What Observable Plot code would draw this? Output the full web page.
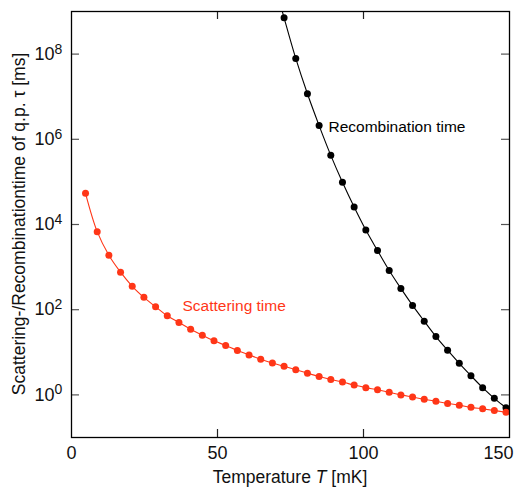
<!DOCTYPE html>
<html>
<head>
<meta charset="utf-8">
<script src="https://cdn.jsdelivr.net/npm/d3@7"></script>
<script src="https://cdn.jsdelivr.net/npm/@observablehq/plot@0.6"></script>
<style>
  body { margin: 0; background: #fff; }
  svg { font-family: "Liberation Sans", Arial, Helvetica, sans-serif; }
</style>
</head>
<body>
<div id="chart"></div>
<script>
// Scattering time (red)
const scatterT = [4.8, 8.8, 12.8, 16.8, 20.8, 24.8, 28.8, 32.8, 36.8, 40.8, 44.8, 48.8, 52.8, 56.8, 60.8, 64.8, 68.8, 72.8, 76.8, 80.8, 84.8, 88.8, 92.8, 96.8, 100.8, 104.8, 108.8, 112.8, 116.8, 120.8, 124.8, 128.8, 132.8, 136.8, 140.8, 144.8, 148.8];
const scatterTau = [54000, 6800, 1900, 760, 355, 195, 117, 72, 50, 34.7, 25.1, 18.6, 14.5, 11.0, 8.7, 6.9, 5.6, 4.7, 3.9, 3.24, 2.69, 2.29, 2.0, 1.70, 1.48, 1.32, 1.15, 1.0, 0.89, 0.79, 0.71, 0.63, 0.575, 0.51, 0.47, 0.43, 0.39];
// Recombination time (black)
const recombT = [72.8, 76.8, 80.8, 84.8, 88.8, 92.8, 96.8, 100.8, 104.8, 108.8, 112.8, 116.8, 120.8, 124.8, 128.8, 132.8, 136.8, 140.8, 144.8, 148.8];
const recombTau = [7.1e8, 7.9e7, 1.17e7, 2.1e6, 4.2e5, 9.8e4, 2.57e4, 7400, 2450, 832, 316, 126, 53.7, 23.4, 11.2, 5.5, 2.82, 1.48, 0.83, 0.50];
// curve ends (where the lines meet the frame)
const recombLineT = [71.0, ...recombT, 150];
const recombLineTau = [2.0e9, ...recombTau, 0.43];
const scatterLineT = [...scatterT, 150];
const scatterLineTau = [...scatterTau, 0.38];

const xTicks = [0, 50, 100, 150];
const yTicks = [1, 1e2, 1e4, 1e6, 1e8];
const yTickExp = ["0", "2", "4", "6", "8"];

const labels = [
  {text: "Recombination time", T: 88.0, tau: 1.9e6, color: "black"},
  {text: "Scattering time", T: 38.0, tau: 123, color: "#ff3617"}
];

const RED = "#ff3617";
const W = 514, H = 487;
const mL = 71, mR = 5, mT = 11, mB = 50;
const plotW = W - mL - mR, plotH = H - mT - mB;

const zip = (a, b) => a.map((v, i) => ({T: v, tau: b[i]}));
const scatter = zip(scatterT, scatterTau);
const recomb = zip(recombT, recombTau);
const scatterLine = zip(scatterLineT, scatterLineTau);
const recombLine = zip(recombLineT, recombLineTau);
const yTickData = yTicks.map((v, i) => ({v, e: yTickExp[i]}));

const plot = Plot.plot({
  width: W, height: H,
  marginLeft: mL, marginRight: mR, marginTop: mT, marginBottom: mB,
  style: {fontFamily: '"Liberation Sans", Arial, Helvetica, sans-serif', background: "#fff", color: "#111"},
  x: {domain: [0, 150], axis: null},
  y: {type: "log", domain: [0.1, 1e9], axis: null},
  marks: [
    // inward ticks
    Plot.tickY(yTicks, {y: d => d, insetRight: plotW - 8, stroke: "#555", strokeWidth: 1.2}),
    Plot.tickY(yTicks, {y: d => d, insetLeft: plotW - 8, stroke: "#555", strokeWidth: 1.2}),
    Plot.tickX(xTicks.slice(1, 3), {x: d => d, insetTop: plotH - 8, stroke: "#222", strokeWidth: 1.2}),
    Plot.tickX(xTicks.slice(1, 3), {x: d => d, insetBottom: plotH - 8, stroke: "#222", strokeWidth: 1.2}),
    // curves
    Plot.line(recombLine, {x: "T", y: "tau", stroke: "black", strokeWidth: 1.1, curve: "catmull-rom", clip: true}),
    Plot.line(scatterLine, {x: "T", y: "tau", stroke: RED, strokeWidth: 1.1, curve: "catmull-rom", clip: true}),
    Plot.dot(recomb, {x: "T", y: "tau", r: 3.5, fill: "black"}),
    Plot.dot(scatter, {x: "T", y: "tau", r: 3.5, fill: RED}),
    // annotations
    Plot.text(labels, {x: "T", y: "tau", text: "text", fill: "color", textAnchor: "start", fontSize: 15.5}),
    // y tick labels 10^n
    Plot.text(yTickData, {y: "v", text: () => "10", frameAnchor: "left", textAnchor: "end", dx: -17, fontSize: 18, fill: "#111"}),
    Plot.text(yTickData, {y: "v", text: "e", frameAnchor: "left", textAnchor: "start", dx: -17, dy: -5, fontSize: 14, fill: "#111"}),
    // x axis labels
    Plot.axisX(xTicks.slice(0, 3), {tickSize: 0, tickPadding: 9, fontSize: 18, label: null, color: "#111"}),
    Plot.axisX(xTicks.slice(3), {tickSize: 0, tickPadding: 9, fontSize: 18, label: null, color: "#111", textAnchor: "end", dx: 4}),
    Plot.frame({stroke: "black", strokeWidth: 1.3})
  ]
});

const svg = d3.select(plot);
const xl = svg.append("text")
  .attr("x", mL + plotW / 2).attr("y", H - 4)
  .attr("text-anchor", "middle")
  .attr("font-size", 17.5).attr("fill", "#111");
xl.append("tspan").text("Temperature ");
xl.append("tspan").attr("font-style", "italic").text("T");
xl.append("tspan").text(" [mK]");

svg.append("text")
  .attr("transform", `translate(${18.5},${mT + plotH / 2}) rotate(-90)`)
  .attr("text-anchor", "middle").attr("dy", "0.35em")
  .attr("font-size", 17.5).attr("fill", "#111")
  .text("Scattering-/Recombinationtime of q.p. τ [ms]");

document.getElementById("chart").appendChild(plot);
</script>
</body>
</html>
